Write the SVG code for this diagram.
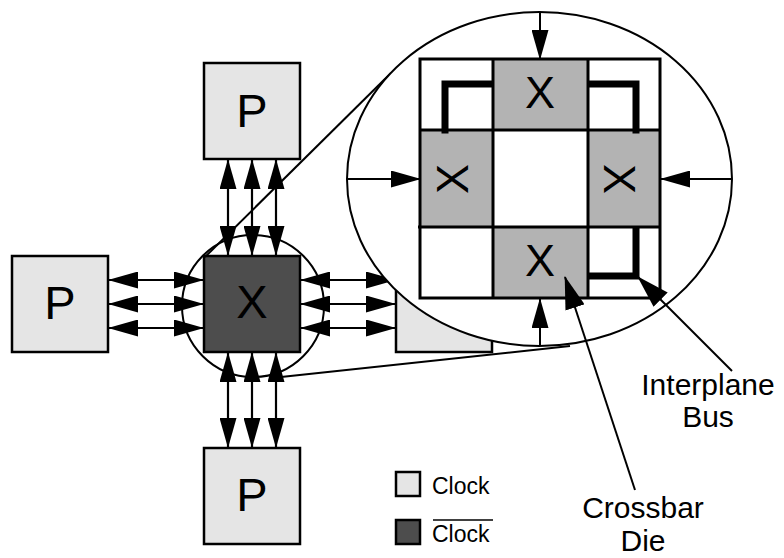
<svg xmlns="http://www.w3.org/2000/svg" width="784" height="558" viewBox="0 0 784 558">
<style>
  .pbox{fill:#e5e5e5;stroke:#000;stroke-width:2.5}
  .xbox{fill:#4d4d4d;stroke:#000;stroke-width:2.5}
  .big{font-family:"Liberation Sans",Arial,sans-serif;font-size:47px;fill:#000;text-anchor:middle}
  .gx{font-family:"Liberation Sans",Arial,sans-serif;font-size:45px;fill:#000;text-anchor:middle}
  .lbl{font-family:"Liberation Sans",Arial,sans-serif;font-size:30px;fill:#000;text-anchor:middle}
  .leg{font-family:"Liberation Sans",Arial,sans-serif;font-size:23px;fill:#000}
  .arr{stroke:#000;stroke-width:2.2;fill:none;marker-start:url(#ah);marker-end:url(#ah)}
  .arr1{stroke:#000;stroke-width:2;fill:none;marker-end:url(#ah)}
  .ptr{stroke:#000;stroke-width:2;fill:none;marker-start:url(#ah2)}
  .thin{stroke:#000;stroke-width:2;fill:none}
  .cell{fill:#b3b3b3}
  .grid{stroke:#000;stroke-width:3;fill:none}
  .bus{stroke:#000;stroke-width:7;fill:none;stroke-linejoin:miter;stroke-linecap:square}
</style>
<defs>
  <marker id="ah" viewBox="0 0 30 17" refX="29" refY="8.5" markerWidth="30" markerHeight="17" markerUnits="userSpaceOnUse" orient="auto-start-reverse">
    <path d="M0,0 L30,8.5 L0,17 z" fill="#000"/>
  </marker>
  <marker id="ah2" viewBox="0 0 33 20" refX="32" refY="10" markerWidth="33" markerHeight="20" markerUnits="userSpaceOnUse" orient="auto-start-reverse">
    <path d="M0,0 L33,10 L0,20 z" fill="#000"/>
  </marker>
</defs>

<g id="connectors">
  <line class="arr" x1="228" y1="160" x2="228" y2="255"/>
  <line class="arr" x1="252" y1="160" x2="252" y2="255"/>
  <line class="arr" x1="276" y1="160" x2="276" y2="255"/>
  <line class="arr" x1="228" y1="353" x2="228" y2="447"/>
  <line class="arr" x1="252" y1="353" x2="252" y2="447"/>
  <line class="arr" x1="276" y1="353" x2="276" y2="447"/>
  <line class="arr" x1="109" y1="280" x2="203" y2="280"/>
  <line class="arr" x1="109" y1="304" x2="203" y2="304"/>
  <line class="arr" x1="109" y1="328" x2="203" y2="328"/>
  <line class="arr" x1="301" y1="280" x2="395" y2="280"/>
  <line class="arr" x1="301" y1="304" x2="395" y2="304"/>
  <line class="arr" x1="301" y1="328" x2="395" y2="328"/>
</g>

<g id="ring">
  <circle cx="253" cy="306" r="71" class="thin"/>
</g>

<g id="p-top"><rect class="pbox" x="204" y="63" width="96" height="96"/><text class="big" x="252" y="127">P</text></g>
<g id="p-left"><rect class="pbox" x="12" y="256" width="96" height="96"/><text class="big" x="60" y="319">P</text></g>
<g id="p-bottom"><rect class="pbox" x="204" y="448" width="96" height="96"/><text class="big" x="252" y="511">P</text></g>
<g id="p-right"><rect class="pbox" x="396" y="256" width="96" height="96"/></g>
<g id="x-center"><rect class="xbox" x="204" y="256" width="96" height="96"/><text class="big" x="252" y="318">X</text></g>

<g id="zoom-lines">
  <line class="thin" x1="205" y1="257" x2="391" y2="73"/>
  <line class="thin" x1="281" y1="377" x2="570" y2="346"/>
</g>

<g id="detail">
  <ellipse cx="539.5" cy="179" rx="192.5" ry="167" fill="#fff" stroke="#000" stroke-width="2"/>
  <rect class="cell" x="493" y="59" width="95" height="71"/>
  <rect class="cell" x="420" y="130" width="73" height="97"/>
  <rect class="cell" x="588" y="130" width="72" height="97"/>
  <rect class="cell" x="493" y="227" width="95" height="71"/>
  <rect class="grid" x="420" y="59" width="240" height="239"/>
  <line class="grid" x1="493" y1="59" x2="493" y2="298"/>
  <line class="grid" x1="588" y1="59" x2="588" y2="298"/>
  <line class="grid" x1="420" y1="130" x2="660" y2="130"/>
  <line class="grid" x1="418" y1="227" x2="660" y2="227"/>
  <path class="bus" d="M445,130 V84 H490"/>
  <path class="bus" d="M591,84 H636 V130"/>
  <path class="bus" d="M636,230 V276 H591"/>
  <text class="gx" x="540" y="108">X</text>
  <text class="gx" x="540" y="276">X</text>
  <text class="gx" transform="translate(452,179) rotate(-90)" x="0" y="16">X</text>
  <text class="gx" transform="translate(620,179) rotate(90)" x="0" y="16">X</text>
  <line class="arr1" x1="540" y1="12" x2="540" y2="59"/>
  <line class="arr1" x1="347" y1="179" x2="420" y2="179"/>
  <line class="arr1" x1="732" y1="179" x2="661" y2="179"/>
  <line class="arr1" x1="540" y1="346" x2="540" y2="299"/>
</g>

<g id="pointers">
  <line class="ptr" x1="565" y1="277" x2="635" y2="490"/>
  <line class="ptr" x1="638" y1="277" x2="732" y2="371"/>
</g>

<g id="label-interplane"><text class="lbl" x="708" y="395">Interplane</text><text class="lbl" x="708" y="427">Bus</text></g>
<g id="label-crossbar"><text class="lbl" x="643" y="518">Crossbar</text><text class="lbl" x="643" y="551">Die</text></g>

<g id="legend">
  <rect x="396" y="472" width="24" height="24" fill="#e5e5e5" stroke="#000" stroke-width="2.5"/>
  <text class="leg" x="432" y="494">Clock</text>
  <rect x="396" y="520" width="24" height="24" fill="#4d4d4d" stroke="#000" stroke-width="2.5"/>
  <text class="leg" x="432" y="542">Clock</text>
  <line x1="433" y1="520" x2="493" y2="520" stroke="#000" stroke-width="1.5"/>
</g>
</svg>
